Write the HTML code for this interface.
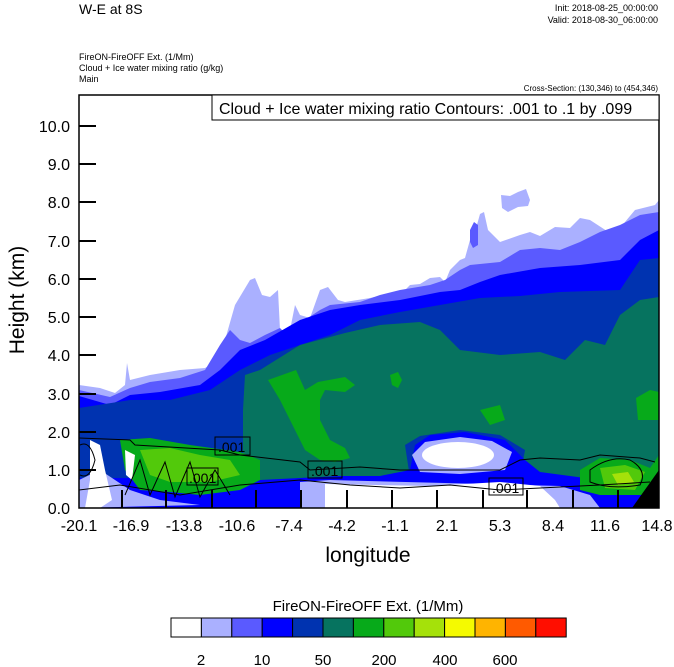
<!DOCTYPE html>
<html><head><style>
body{margin:0;background:#fff;width:674px;height:667px;overflow:hidden;font-family:"Liberation Sans",sans-serif;}
svg{position:absolute;left:0;top:0}
</style></head><body>
<svg width="674" height="667" viewBox="0 0 674 667" font-family="Liberation Sans, sans-serif">
<defs><clipPath id="c"><rect x="79" y="95" width="580" height="413"/></clipPath></defs>
<g clip-path="url(#c)">
<polygon fill="#aab0ff" points="79,385 100,388 115,393 125,385 127,363 130,380 150,375 180,370 205,368 215,362 225,340 235,305 250,280 255,278 262,295 270,297 278,290 280,330 290,330 295,305 300,315 310,318 320,290 328,287 338,300 345,302 370,298 405,290 410,285 420,284 430,278 440,277 445,282 450,270 460,260 465,258 470,240 475,232 480,214 484,212 488,230 500,242 520,235 530,232 540,236 555,227 570,228 580,218 590,220 610,233 620,228 635,210 655,205 659,200 659,508 79,508"/>
<polygon fill="#aab0ff" points="501,195 510,196 518,192 526,189 530,200 528,206 518,207 508,212 502,208"/>
<polygon fill="#5a5aff" points="79,390 110,397 130,388 150,382 180,378 205,370 220,345 230,330 240,340 250,343 265,335 280,328 285,333 320,310 330,305 360,302 380,295 400,290 430,285 445,280 460,270 470,265 500,262 520,250 540,248 560,250 580,242 600,232 620,225 640,215 659,212 659,508 79,508"/>
<polygon fill="#5a5aff" points="470,230 474,222 478,225 478,245 473,248 470,242"/>
<polygon fill="#0000ff" points="79,396 110,405 130,395 160,392 200,385 220,370 240,350 265,340 300,320 330,310 360,305 400,300 440,292 460,290 480,282 500,275 540,268 580,265 620,260 640,240 659,230 659,508 79,508"/>
<polygon fill="#0033b0" points="79,408 130,400 170,400 210,390 240,370 270,355 300,345 330,335 360,320 400,312 440,305 480,298 520,296 560,292 620,290 640,260 659,258 659,508 79,508"/>
<polygon fill="#06735f" points="243,410 245,375 260,370 300,345 345,333 380,325 420,322 440,330 460,350 500,355 540,352 565,360 585,340 605,345 620,315 640,300 659,297 659,480 600,478 540,478 500,478 460,478 400,478 340,480 300,482 260,482 243,470"/>
<polygon fill="#07aa1a" points="268,380 296,370 305,390 318,382 345,377 355,385 345,392 325,390 320,400 320,420 330,440 345,448 350,458 335,462 320,460 305,450 300,440 290,420 280,400"/>
<polygon fill="#07aa1a" points="390,375 398,372 402,380 398,388 392,385"/>
<polygon fill="#07aa1a" points="636,398 650,390 659,392 659,420 638,420"/>
<polygon fill="#07aa1a" points="480,410 500,405 505,420 490,425"/>
<polygon fill="#0033b0" points="405,445 420,436 460,430 500,435 525,450 520,478 410,478"/>
<polygon fill="#0000ff" points="79,478 200,478 260,480 300,478 340,476 380,476 410,470 415,445 430,435 465,432 505,440 525,460 540,472 600,480 659,482 659,508 79,508"/>
<polygon fill="#aab0ff" points="412,455 425,442 460,437 492,441 512,452 505,470 460,474 420,472"/>
<ellipse cx="458" cy="455" rx="36" ry="13" fill="#fff"/>
<polygon fill="#07aa1a" points="120,440 150,438 190,445 240,452 260,460 260,480 240,490 200,495 170,492 140,490 125,470"/>
<polygon fill="#52c90b" points="140,450 170,448 200,455 230,460 240,475 210,482 170,482 150,475"/>
<polygon fill="#07aa1a" points="580,470 600,458 630,460 650,468 659,455 659,495 600,495 580,490"/>
<polygon fill="#52c90b" points="600,468 625,465 645,472 635,490 605,488"/>
<polygon fill="#a5e10a" points="612,474 628,472 634,482 618,485"/>
<polygon fill="#aab0ff" points="79,480 100,470 130,490 160,500 200,505 79,508"/>
<polygon fill="#fff" points="90,440 100,445 105,470 112,500 100,508 85,508 90,480"/>
<polygon fill="#fff" points="125,450 135,455 132,480 126,475"/>
<polygon fill="#aab0ff" points="300,482 330,480 560,486 590,495 600,508 300,508"/>
<polygon fill="#fff" points="325,484 430,486 500,482 540,486 555,500 560,508 325,508"/>
<polygon fill="#000" points="659,470 659,508 632,508"/>
<g fill="none" stroke="#000" stroke-width="1">
<path d="M79,438 L130,440 135,445 220,450 240,455 300,462 310,470 360,467 400,470 450,470 500,470 520,460 540,458 580,460 600,455 640,458 655,462"/>
<path d="M79,490 L120,485 180,495 240,485 300,480 350,485 400,488 450,485 500,490 560,487 600,485 650,482"/>
<path d="M125,495 L140,460 150,495 165,462 175,497 190,462 200,497 215,470 230,495"/>
<path d="M590,470 Q610,455 630,460 Q648,470 640,485 Q610,490 590,482Z"/>
<path d="M80,445 Q90,440 95,460 Q90,480 80,475"/>
</g>
<g font-size="14" fill="#000" stroke="#000" stroke-width="1">
<rect x="215" y="437" width="35" height="18" fill="none"/><text x="218" y="452" stroke="none">.001</text>
<rect x="187" y="468" width="31" height="17" fill="none"/><text x="189" y="483" stroke="none">.001</text>
<rect x="308" y="461" width="34" height="17" fill="none"/><text x="311" y="476" stroke="none">.001</text>
<rect x="489" y="478" width="34" height="17" fill="none"/><text x="492" y="493" stroke="none">.001</text>
</g>
</g>
<rect x="79" y="95" width="580" height="413" fill="none" stroke="#000" stroke-width="1.5"/>
<rect x="212" y="95" width="447" height="25" fill="#fff" stroke="#000" stroke-width="1"/>
<text x="219" y="114" font-size="16">Cloud + Ice water mixing ratio Contours: .001 to .1 by .099</text>
<g stroke="#000" stroke-width="2">
<line x1="79" y1="470" x2="96" y2="470"/><line x1="79" y1="432" x2="96" y2="432"/><line x1="79" y1="394" x2="96" y2="394"/><line x1="79" y1="355" x2="96" y2="355"/><line x1="79" y1="317" x2="96" y2="317"/><line x1="79" y1="279" x2="96" y2="279"/><line x1="79" y1="241" x2="96" y2="241"/><line x1="79" y1="202" x2="96" y2="202"/><line x1="79" y1="164" x2="96" y2="164"/><line x1="79" y1="126" x2="96" y2="126"/>
<line x1="122" y1="508" x2="122" y2="490"/><line x1="166" y1="508" x2="166" y2="490"/><line x1="212" y1="508" x2="212" y2="490"/><line x1="256" y1="508" x2="256" y2="490"/><line x1="301" y1="508" x2="301" y2="490"/><line x1="347" y1="508" x2="347" y2="490"/><line x1="392" y1="508" x2="392" y2="490"/><line x1="437" y1="508" x2="437" y2="490"/><line x1="483" y1="508" x2="483" y2="490"/><line x1="527" y1="508" x2="527" y2="490"/><line x1="573" y1="508" x2="573" y2="490"/><line x1="618" y1="508" x2="618" y2="490"/>
</g>
<g font-size="16" text-anchor="end">
<text x="70" y="514">0.0</text><text x="70" y="476">1.0</text><text x="70" y="438">2.0</text><text x="70" y="400">3.0</text><text x="70" y="361">4.0</text><text x="70" y="323">5.0</text><text x="70" y="285">6.0</text><text x="70" y="247">7.0</text><text x="70" y="208">8.0</text><text x="70" y="170">9.0</text><text x="70" y="132">10.0</text>
</g>
<g font-size="16" text-anchor="middle">
<text x="79" y="531">-20.1</text><text x="131" y="531">-16.9</text><text x="184" y="531">-13.8</text><text x="237" y="531">-10.6</text><text x="289" y="531">-7.4</text><text x="342" y="531">-4.2</text><text x="395" y="531">-1.1</text><text x="447" y="531">2.1</text><text x="500" y="531">5.3</text><text x="553" y="531">8.4</text><text x="605" y="531">11.6</text><text x="657" y="531">14.8</text>
</g>
<text x="368" y="562" font-size="21" text-anchor="middle">longitude</text>
<text transform="translate(24,300) rotate(-90)" font-size="21" text-anchor="middle">Height (km)</text>
<text x="79" y="14" font-size="14">W-E at 8S</text>
<text x="658" y="11" font-size="9" text-anchor="end">Init: 2018-08-25_00:00:00</text>
<text x="658" y="23" font-size="9" text-anchor="end">Valid: 2018-08-30_06:00:00</text>
<text x="79" y="60" font-size="9">FireON-FireOFF Ext.   (1/Mm)</text>
<text x="79" y="71" font-size="9">Cloud + Ice water mixing ratio   (g/kg)</text>
<text x="79" y="82" font-size="9">Main</text>
<text x="658" y="91" font-size="8" text-anchor="end">Cross-Section: (130,346) to (454,346)</text>
<text x="368" y="611" font-size="15" text-anchor="middle">FireON-FireOFF Ext.  (1/Mm)</text>
<g stroke="#000" stroke-width="1">
<rect x="171" y="618" width="30.4" height="19" fill="#fff"/>
<rect x="201.4" y="618" width="30.4" height="19" fill="#aab0ff"/>
<rect x="231.8" y="618" width="30.4" height="19" fill="#5a5aff"/>
<rect x="262.2" y="618" width="30.4" height="19" fill="#0000ff"/>
<rect x="292.6" y="618" width="30.4" height="19" fill="#0033b0"/>
<rect x="323" y="618" width="30.4" height="19" fill="#06735f"/>
<rect x="353.4" y="618" width="30.4" height="19" fill="#07aa1a"/>
<rect x="383.8" y="618" width="30.4" height="19" fill="#52c90b"/>
<rect x="414.2" y="618" width="30.4" height="19" fill="#a5e10a"/>
<rect x="444.6" y="618" width="30.4" height="19" fill="#f5fa00"/>
<rect x="475" y="618" width="30.4" height="19" fill="#ffb400"/>
<rect x="505.4" y="618" width="30.4" height="19" fill="#ff5a00"/>
<rect x="535.8" y="618" width="30.4" height="19" fill="#ff0e00"/>
</g>
<g font-size="15" text-anchor="middle">
<text x="201" y="665">2</text><text x="262" y="665">10</text><text x="323" y="665">50</text><text x="384" y="665">200</text><text x="445" y="665">400</text><text x="505" y="665">600</text>
</g>
</svg>
</body></html>
